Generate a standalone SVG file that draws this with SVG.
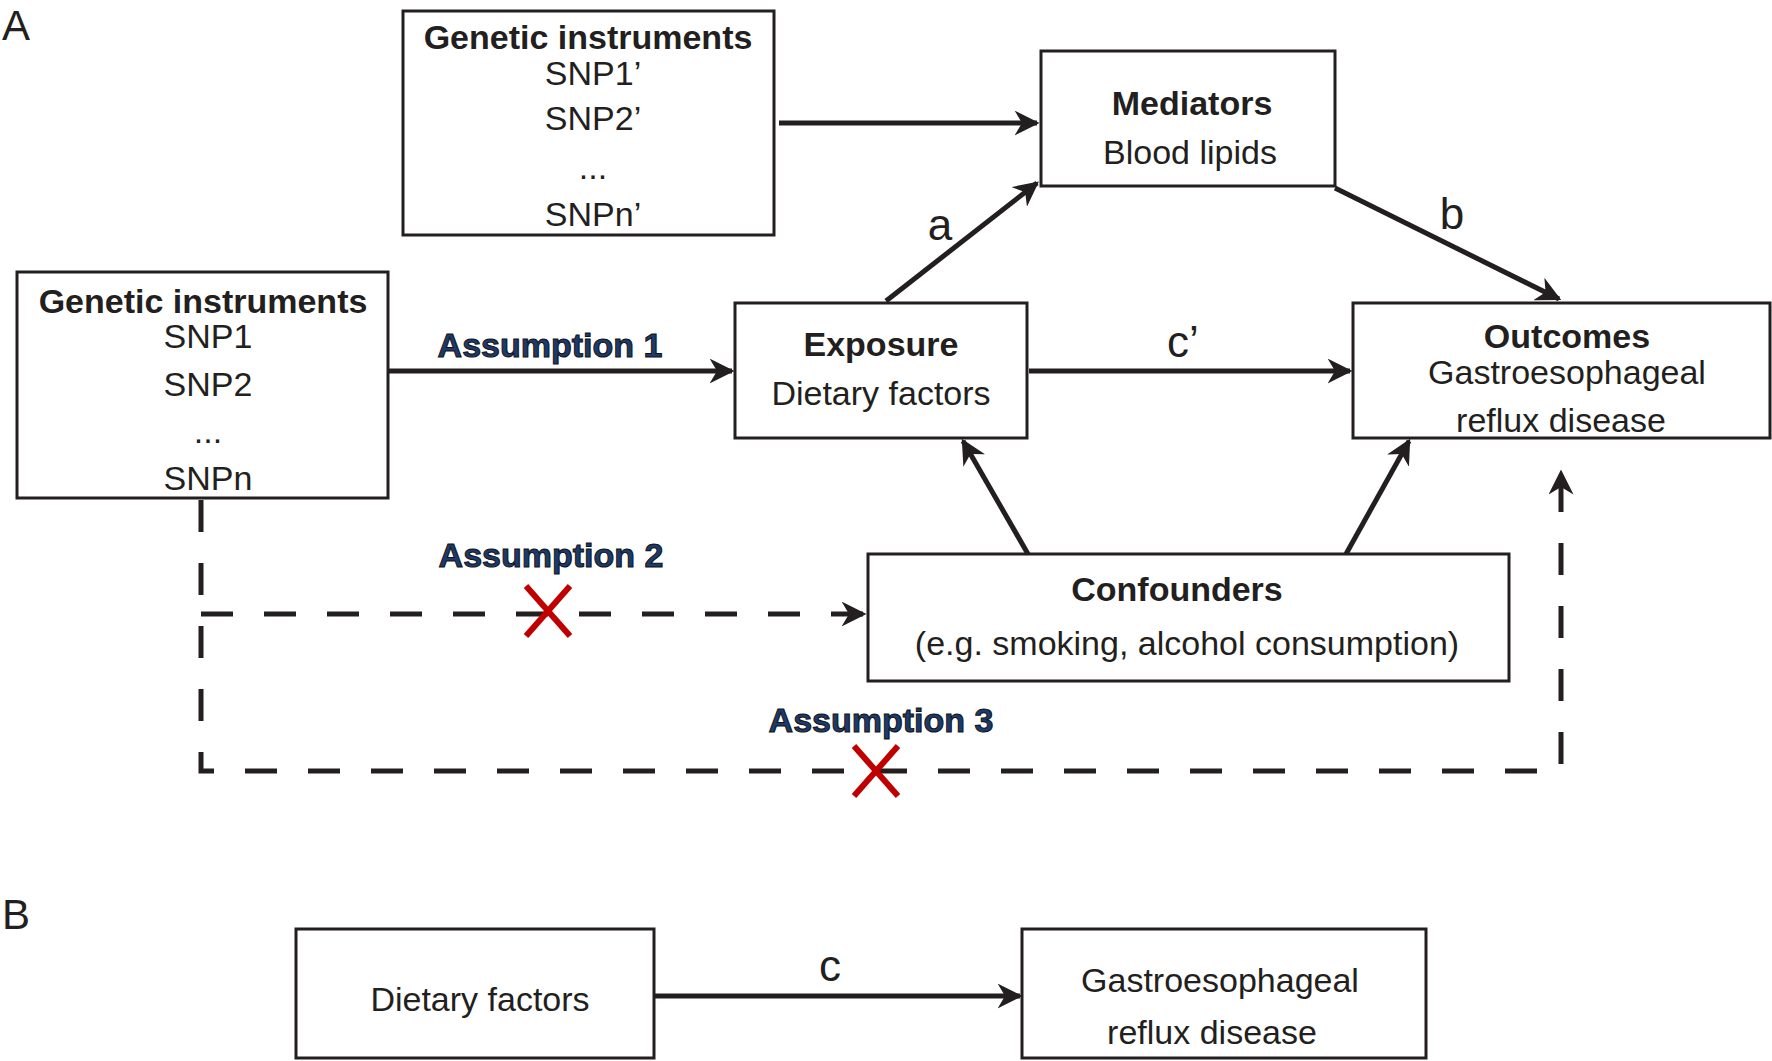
<svg xmlns="http://www.w3.org/2000/svg" width="1772" height="1061" viewBox="0 0 1772 1061">
<style>
text{font-family:"Liberation Sans",Arial,sans-serif;fill:#231f20;text-anchor:middle}
.t{font-size:34px}
.b{font-weight:bold}
.big{font-size:44px}
.as{font-size:34px;font-weight:bold;fill:#1c3a6b;stroke:#111;stroke-width:1}
rect{fill:#fff;stroke:#231f20;stroke-width:3}
.s{stroke:#231f20;stroke-width:5;fill:none}
.d{stroke:#231f20;stroke-width:5;fill:none;stroke-dasharray:32 31}
.x{stroke:#c00000;stroke-width:6}
</style>
<defs>
<marker id="ah" viewBox="0 0 10 10" refX="9" refY="5" markerWidth="5" markerHeight="5" orient="auto" markerUnits="strokeWidth"><path d="M0,0 L10,5 L0,10 L3,5 Z" fill="#231f20"/></marker>
</defs>
<text x="2" y="40" style="font-size:42px;text-anchor:start">A</text>
<text x="2" y="929" style="font-size:42px;text-anchor:start">B</text>
<g id="connectors">
<line class="s" x1="779" y1="123" x2="1037" y2="123" marker-end="url(#ah)"/>
<line class="s" x1="388" y1="371" x2="732" y2="371" marker-end="url(#ah)"/>
<line class="s" x1="1029" y1="371" x2="1350" y2="371" marker-end="url(#ah)"/>
<line class="s" x1="886" y1="301" x2="1037" y2="183" marker-end="url(#ah)"/>
<line class="s" x1="1335" y1="188" x2="1559" y2="299" marker-end="url(#ah)"/>
<line class="s" x1="1028" y1="554" x2="963" y2="441" marker-end="url(#ah)"/>
<line class="s" x1="1346" y1="554" x2="1409" y2="441" marker-end="url(#ah)"/>
<polyline class="d" points="201,500 201,771 1561,771 1561,472" marker-end="url(#ah)"/>
<line class="d" x1="201" y1="614" x2="864" y2="614" marker-end="url(#ah)"/>
<line class="s" x1="654" y1="996" x2="1020" y2="996" marker-end="url(#ah)"/>
<line class="x" x1="526" y1="586" x2="570" y2="636"/><line class="x" x1="570" y1="586" x2="526" y2="636"/>
<line class="x" x1="854" y1="746" x2="898" y2="796"/><line class="x" x1="898" y1="746" x2="854" y2="796"/>
<text class="big" x="940" y="240">a</text>
<text class="big" x="1452" y="229">b</text>
<text class="big" x="1183" y="357">c’</text>
<text class="big" x="830" y="981">c</text>
<text class="as" x="550" y="357">Assumption 1</text>
<text class="as" x="551" y="567">Assumption 2</text>
<text class="as" x="881" y="732">Assumption 3</text>
</g>
<g id="gi-top"><rect x="403" y="11" width="371" height="224"/>
<text class="t b" x="588" y="49">Genetic instruments</text>
<text class="t" x="593" y="85">SNP1’</text><text class="t" x="593" y="130">SNP2’</text><text class="t" x="593" y="179">...</text><text class="t" x="593" y="226">SNPn’</text></g>
<g id="mediators"><rect x="1041" y="51" width="294" height="135"/>
<text class="t b" x="1192" y="115">Mediators</text><text class="t" x="1190" y="164">Blood lipids</text></g>
<g id="gi-left"><rect x="17" y="272" width="371" height="226"/>
<text class="t b" x="203" y="313">Genetic instruments</text>
<text class="t" x="208" y="348">SNP1</text><text class="t" x="208" y="396">SNP2</text><text class="t" x="208" y="443">...</text><text class="t" x="208" y="490">SNPn</text></g>
<g id="exposure"><rect x="735" y="303" width="292" height="135"/>
<text class="t b" x="881" y="356">Exposure</text><text class="t" x="881" y="405">Dietary factors</text></g>
<g id="outcomes"><rect x="1353" y="303" width="417" height="135"/>
<text class="t b" x="1567" y="348">Outcomes</text><text class="t" x="1567" y="384">Gastroesophageal</text><text class="t" x="1561" y="432">reflux disease</text></g>
<g id="confounders"><rect x="868" y="554" width="641" height="127"/>
<text class="t b" x="1177" y="601">Confounders</text><text class="t" x="1187" y="655">(e.g. smoking, alcohol consumption)</text></g>
<g id="b-dietary"><rect x="296" y="929" width="358" height="129"/>
<text class="t" x="480" y="1011">Dietary factors</text></g>
<g id="b-gerd"><rect x="1022" y="929" width="404" height="129"/>
<text class="t" x="1220" y="992">Gastroesophageal</text><text class="t" x="1212" y="1044">reflux disease</text></g>
</svg>
